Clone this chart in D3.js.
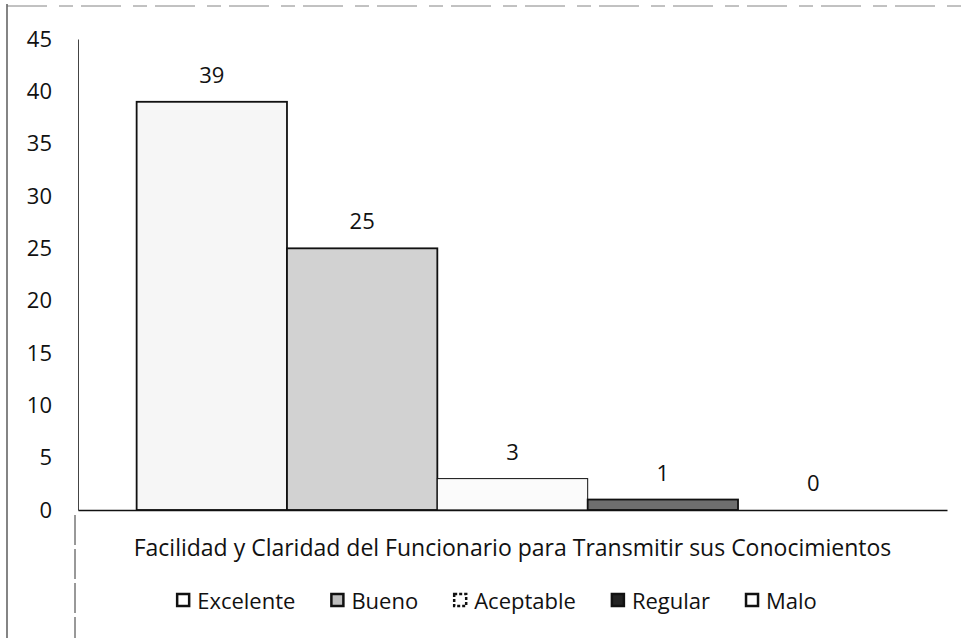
<!DOCTYPE html>
<html>
<head>
<meta charset="utf-8">
<script src="https://cdn.jsdelivr.net/npm/d3@7"></script>
<style>
  html, body { margin: 0; padding: 0; background: #fff; }
  svg { display: block; }
  text { font-family: "Open Sans", "Liberation Sans", sans-serif; fill: #111; }
</style>
</head>
<body>
<svg id="chart" width="965" height="638"></svg>
<script>
// ---- data ----
const categories = ["Facilidad y Claridad del Funcionario para Transmitir sus Conocimientos"];
const seriesNames = ["Excelente", "Bueno", "Aceptable", "Regular", "Malo"];
const seriesValues = [39, 25, 3, 1, 0];
const yTicks = [0, 5, 10, 15, 20, 25, 30, 35, 40, 45];

// ---- styles (not data) ----
const FONT = "'Open Sans', sans-serif";
const FS = "22px";
const fills = ["#f6f6f6", "#d2d2d2", "#fbfbfb", "#6e6e6e", "#ffffff"];
const markerFills = ["#ffffff", "#bdbdbd", "#ffffff", "#222222", "#ffffff"];

const W = 965, H = 638;
const plot = { left: 78, right: 947, top: 39, bottom: 510 };
const svg = d3.select("#chart");

svg.append("rect").attr("width", W).attr("height", H).attr("fill", "#fff");

// outer frame fragments (scanned document border)
svg.append("line").attr("x1", 7).attr("x2", 7).attr("y1", 4).attr("y2", H)
  .attr("stroke", "#333").attr("stroke-width", 1.2);
svg.append("line").attr("x1", 7).attr("x2", W).attr("y1", 6).attr("y2", 6)
  .attr("stroke", "#666").attr("stroke-width", 0.8).attr("stroke-dasharray", "40 12 14 8");
svg.append("line").attr("x1", 75).attr("x2", 75).attr("y1", 515).attr("y2", H)
  .attr("stroke", "#333").attr("stroke-width", 1).attr("stroke-dasharray", "30 4");

// scales
const y = d3.scaleLinear().domain([0, 45]).range([plot.bottom, plot.top]);
const x0 = d3.scaleBand().domain(categories).range([plot.left, plot.right]).padding(0);
const x1 = d3.scaleBand().domain(seriesNames).range([0, x0.bandwidth()])
  .paddingInner(0).paddingOuter(0.39);

// y axis
const yAxis = d3.axisLeft(y).tickValues(yTicks).tickSize(0).tickPadding(26);
const gy = svg.append("g").attr("transform", `translate(${plot.left},0)`).call(yAxis);
gy.select(".domain").attr("stroke", "#444").attr("stroke-width", 1);
gy.selectAll("text").style("font-size", FS).style("font-family", FONT).attr("fill", "#111");

// bars
const g = svg.append("g").attr("transform", `translate(${x0(categories[0])},0)`);
const data = seriesNames.map((s, i) => ({ s, v: seriesValues[i], i }));
g.selectAll("rect.bar").data(data.filter(d => d.v > 0)).join("rect")
  .attr("class", "bar")
  .attr("x", d => x1(d.s))
  .attr("y", d => y(d.v))
  .attr("width", x1.bandwidth())
  .attr("height", d => y(0) - y(d.v))
  .attr("fill", d => fills[d.i])
  .attr("stroke", "#111")
  .attr("stroke-width", d => d.i === 2 ? 1 : 1.8);

// data labels
g.selectAll("text.lbl").data(data).join("text")
  .attr("class", "lbl")
  .attr("x", d => x1(d.s) + x1.bandwidth() / 2)
  .attr("y", d => y(d.v) - 19)
  .attr("text-anchor", "middle")
  .style("font-size", FS)
  .text(d => d.v);

// x axis baseline + category label
const xAxis = d3.axisBottom(x0).tickSize(0).tickPadding(30);
const gx = svg.append("g").attr("transform", `translate(0,${plot.bottom})`).call(xAxis);
gx.select(".domain").attr("stroke", "#111").attr("stroke-width", 1.6);
gx.selectAll("text").style("font-size", "23px").style("font-family", FONT).attr("fill", "#111");

// legend
const leg = svg.append("g");
const items = leg.selectAll("g").data(data).join("g");
items.append("rect").attr("width", 12).attr("height", 12).attr("y", -7)
  .attr("fill", d => markerFills[d.i]).attr("stroke", "#111")
  .attr("stroke-width", 2.5)
  .attr("stroke-dasharray", d => d.i === 2 ? "3 2" : null);
items.append("text").attr("x", 20).attr("y", 8).style("font-size", FS).text(d => d.s);
let cx = 0;
const gap = 36;
items.each(function () {
  const w = this.getBBox().width;
  d3.select(this).attr("transform", `translate(${cx},0)`);
  cx += w + gap;
});
const total = cx - gap;
leg.attr("transform", `translate(${497 - total / 2},601)`);
</script>
</body>
</html>
